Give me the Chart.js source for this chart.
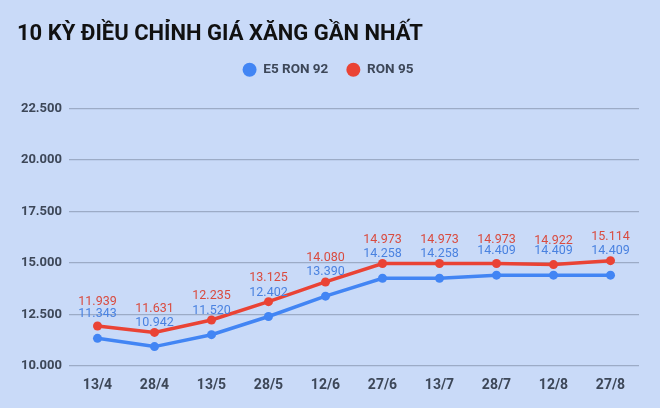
<!DOCTYPE html>
<html>
<head>
<meta charset="utf-8">
<script src="https://cdn.jsdelivr.net/npm/chart.js@4/dist/chart.umd.min.js"></script>
<style>
html,body{margin:0;padding:0;background:#c9daf8;}
#wrap{width:660px;height:408px;position:relative;}
canvas{display:block;}
</style>
</head>
<body>
<div id="wrap"><canvas id="c" width="660" height="408"></canvas></div>
<script>
const titleText = "10 KỲ ĐIỀU CHỈNH GIÁ XĂNG GẦN NHẤT";
const categories = ["13/4","28/4","13/5","28/5","12/6","27/6","13/7","28/7","12/8","27/8"];
const e5Ron92 = [11343,10942,11520,12402,13390,14258,14258,14409,14409,14409];
const ron95 = [11939,11631,12235,13125,14080,14973,14973,14973,14922,15114];
const yTicks = [10000,12500,15000,17500,20000,22500];

const BLUE = "#4285f4", RED = "#ea4335";
const fmt = v => String(v).replace(/\B(?=(\d{3})+(?!\d))/g, ".");

const bgPlugin = {
  id: "bg",
  beforeDraw(chart){
    const ctx = chart.ctx;
    ctx.save();
    ctx.fillStyle = "#c9daf8";
    ctx.fillRect(0,0,chart.width,chart.height);
    ctx.restore();
  }
};

const legendGapPlugin = {
  id: "legendGap",
  beforeInit(chart){
    const origFit = chart.legend.fit;
    chart.legend.fit = function(){
      origFit.call(this);
      this.height += 22;
    };
  }
};

const labelPlugin = {
  id: "valueLabels",
  afterDatasetsDraw(chart){
    const ctx = chart.ctx;
    ctx.save();
    ctx.font = "400 12.5px Roboto";
    ctx.textAlign = "center";
    ctx.textBaseline = "middle";
    chart.data.datasets.forEach((ds, i) => {
      const meta = chart.getDatasetMeta(i);
      ctx.fillStyle = ds.labelColor;
      meta.data.forEach((pt, j) => {
        ctx.fillText(fmt(ds.data[j]), pt.x, pt.y - 24);
      });
    });
    ctx.restore();
  }
};

new Chart(document.getElementById("c"), {
  type: "line",
  data: {
    labels: categories,
    datasets: [
      { label: "E5 RON 92", data: e5Ron92, borderColor: BLUE, backgroundColor: BLUE,
        borderWidth: 3.5, pointRadius: 4.5, pointBorderWidth: 0, tension: 0, labelColor: "#4a82e0" },
      { label: "RON 95", data: ron95, borderColor: RED, backgroundColor: RED,
        borderWidth: 3.5, pointRadius: 4.5, pointBorderWidth: 0, tension: 0, labelColor: "#d94b3f" }
    ]
  },
  options: {
    responsive: false,
    animation: false,
    events: [],
    layout: { padding: { left: 17, right: 21, top: 0, bottom: 0 } },
    plugins: {
      title: {
        display: true, text: titleText, align: "start", color: "#111",
        font: { family: "Roboto", weight: "700", size: 22, lineHeight: 1.0 },
        padding: { top: 23, bottom: 0 }
      },
      legend: {
        display: true, position: "top", align: "center",
        labels: {
          usePointStyle: true, pointStyle: "circle", pointStyleWidth: 14, boxWidth: 14, boxHeight: 10,
          color: "#3d4758", font: { family: "Roboto", weight: "700", size: 13.5 },
          padding: 18
        }
      },
      tooltip: { enabled: false }
    },
    scales: {
      x: {
        offset: true,
        grid: { display: false, drawTicks: false },
        border: { display: false },
        ticks: { color: "#3d4758", font: { family: "Roboto", weight: "700", size: 14 }, padding: 11 },
        afterFit(s){ s.height = 42; }
      },
      y: {
        min: 10000, max: 22500,
        afterBuildTicks(s){ s.ticks = yTicks.map(v => ({ value: v })); },
        grid: { color: "#9cabc6", lineWidth: 1.2, drawTicks: false },
        border: { display: false },
        ticks: { color: "#3d4758", font: { family: "Roboto", weight: "700", size: 13 }, padding: 7,
                 callback: v => fmt(v) },
        afterFit(s){ s.width = 52; }
      }
    }
  },
  plugins: [bgPlugin, legendGapPlugin, labelPlugin]
});
</script>
</body>
</html>
